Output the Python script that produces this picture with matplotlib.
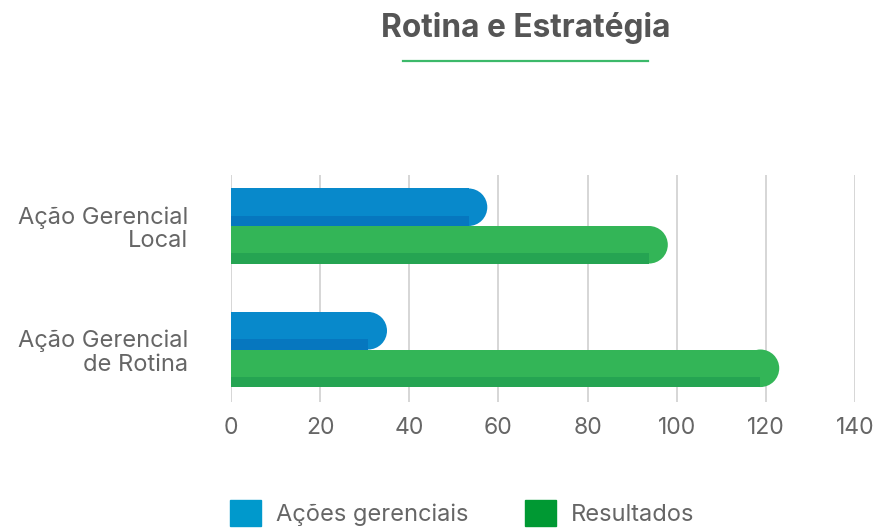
import matplotlib.pyplot as plt
from matplotlib.lines import Line2D
from matplotlib.patches import Patch, Ellipse

# data
categories = ["Ação Gerencial\nLocal", "Ação Gerencial\nde Rotina"]
acoes = [57.5, 35]
resultados = [98, 123]
series_names = ["Ações gerenciais", "Resultados"]
x_ticks = [0, 20, 40, 60, 80, 100, 120, 140]

plt.rcParams['font.family'] = ['Inter', 'DejaVu Sans']

W, H, DPI = 875, 528, 100
fig = plt.figure(figsize=(W / DPI, H / DPI), dpi=DPI)
ax = fig.add_axes([231 / W, 126 / H, 624 / W, 227 / H])

xmax = 140
ylim = (1.425, -0.413)
ax.set_xlim(0, xmax)
ax.set_ylim(*ylim)

bar_h = 0.304
stripe_frac = 0.27

# radius of the rounded end in x data units (half the bar height in pixels)
bar_px = bar_h * 227 / (ylim[0] - ylim[1])
r_data = (bar_px / 2) / (624 / xmax)

styles = [("#0889CB", "#0677BF", -bar_h / 2), ("#33B557", "#25A452", bar_h / 2)]
for vals, (light, dark, off) in zip([acoes, resultados], styles):
    for i, v in enumerate(vals):
        y = i + off
        body = v - r_data
        ax.barh(y, body, height=bar_h, color=light, linewidth=0, zorder=3)
        sh = bar_h * stripe_frac
        ax.barh(y + bar_h / 2 - sh / 2, body, height=sh, color=dark,
                linewidth=0, zorder=3)
        ax.add_patch(Ellipse((body, y), 2 * r_data, bar_h, facecolor=light,
                             linewidth=0, zorder=2))

ax.set_yticks(range(len(categories)))
ax.set_yticklabels(categories, fontsize=17, color="#666666", linespacing=1.08)
ax.set_xticks(x_ticks)
ax.set_xticklabels([str(t) for t in x_ticks], fontsize=16.5, color="#666666")
ax.tick_params(axis='both', length=0)
ax.tick_params(axis='x', pad=11)
ax.tick_params(axis='y', pad=31)
ax.grid(axis='x', color="#d0d0d0", linewidth=1.2)
ax.set_axisbelow(True)
for s in ax.spines.values():
    s.set_visible(False)

# title with green underline
fig.text(526 / W, 1 - 28 / H, "Rotina e Estratégia", ha='center', va='center',
         fontsize=22.8, fontweight='bold', color="#555555")
fig.add_artist(Line2D([403 / W, 648 / W], [1 - 61 / H, 1 - 61 / H],
                      color="#3CB96A", linewidth=1.6))

handles = [Patch(color="#0099CC"), Patch(color="#009933")]
fig.legend(handles, series_names, loc='center left',
           bbox_to_anchor=(209 / W, 1 - 513 / H), ncol=2, frameon=False,
           fontsize=17, labelcolor="#666666", handlelength=1.31,
           handleheight=1.31, handletextpad=0.64, columnspacing=2.37)

fig.savefig("out.png", dpi=DPI)
